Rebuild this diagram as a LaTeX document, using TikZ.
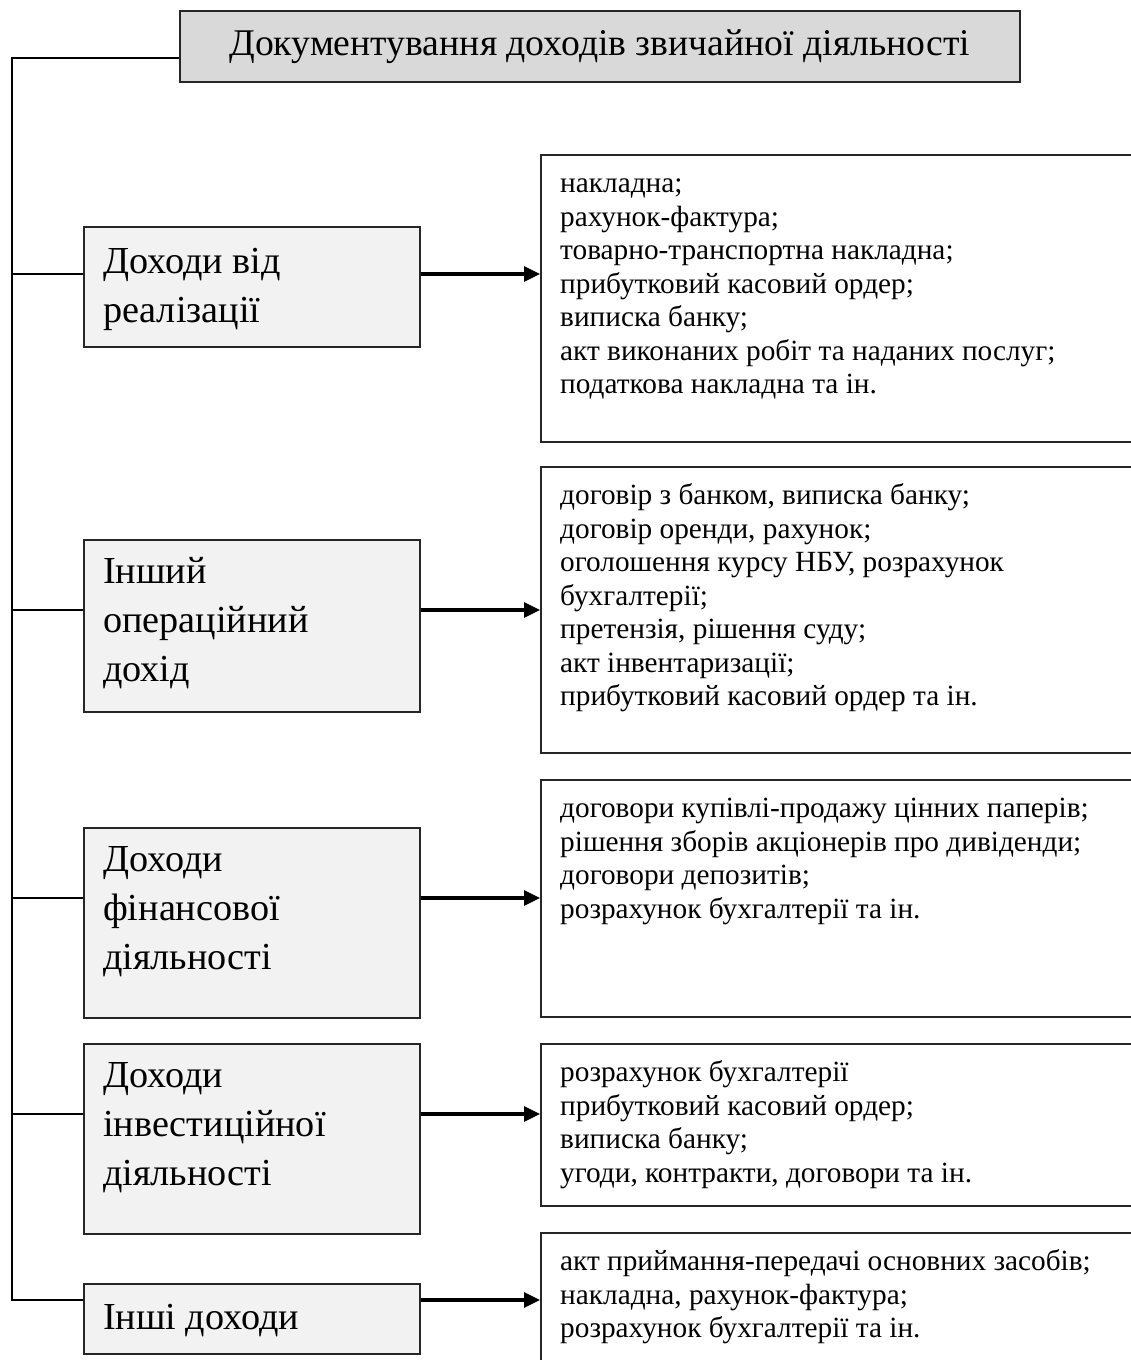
\documentclass[tikz,border=0pt]{standalone}
\usepackage{fontspec}
\setmainfont{Liberation Serif}
\usetikzlibrary{arrows.meta}
\begin{document}
\begin{tikzpicture}[x=1pt,y=-1pt,
  frame/.style={draw=black!85,line width=1.5pt,rectangle,inner sep=0pt,anchor=north west},
  titlebox/.style={frame,fill=black!15,font=\fontsize{37.7}{44}\selectfont},
  kindbox/.style={frame,fill=black!5,minimum width=336pt},
  docbox/.style={frame,fill=white,minimum width=600pt},
  kindtext/.style={anchor=north west,inner sep=0pt,align=left,font=\fontsize{38.2}{49}\selectfont},
  doctext/.style={anchor=north west,inner sep=0pt,align=left,font=\fontsize{29.3}{33.5}\selectfont},
  link/.style={line width=1.4pt},
  feed/.style={line width=3.2pt,-{Triangle[length=16pt,width=15pt]}}
]
\useasboundingbox (0,0) rectangle (1130,1360);

% heading
\node[titlebox,minimum width=840pt,minimum height=71pt] (title) at (179,10)
  {Документування доходів звичайної діяльності};

% kinds of income
\node[kindbox,minimum height=120pt] (k1) at (83,226) {};
\node[kindbox,minimum height=172pt] (k2) at (83,539) {};
\node[kindbox,minimum height=190pt] (k3) at (83,827) {};
\node[kindbox,minimum height=190pt] (k4) at (83,1043) {};
\node[kindbox,minimum height=70pt]  (k5) at (83,1283) {};

\node[kindtext] (k1t) at (103,239) {\strut Доходи від\\реалізації};
\node[kindtext] (k2t) at (103,549) {\strut Інший\\операційний\\дохід};
\node[kindtext] (k3t) at (103,837) {\strut Доходи\\фінансової\\діяльності};
\node[kindtext] (k4t) at (103,1053) {\strut Доходи\\інвестиційної\\діяльності};
\node[kindtext] (k5t) at (103,1295) {\strut Інші доходи};

% supporting documents
\node[docbox,minimum height=287pt] (d1) at (540,154) {};
\node[docbox,minimum height=286pt] (d2) at (540,466) {};
\node[docbox,minimum height=237pt] (d3) at (540,779) {};
\node[docbox,minimum height=162pt] (d4) at (540,1043) {};
\node[docbox,minimum height=160pt] (d5) at (540,1232) {};

\node[doctext] (d1t) at (560,169) {\strut накладна;\\рахунок-фактура;\\товарно-транспортна накладна;\\прибутковий касовий ордер;\\виписка банку;\\акт виконаних робіт та наданих послуг;\\податкова накладна та ін.};
\node[doctext] (d2t) at (560,481) {\strut договір з банком, виписка банку;\\договір оренди, рахунок;\\оголошення курсу НБУ, розрахунок\\бухгалтерії;\\претензія, рішення суду;\\акт інвентаризації;\\прибутковий касовий ордер та ін.};
\node[doctext] (d3t) at (560,794) {\strut договори купівлі-продажу цінних паперів;\\рішення зборів акціонерів про дивіденди;\\договори депозитів;\\розрахунок бухгалтерії та ін.};
\node[doctext] (d4t) at (560,1058) {\strut розрахунок бухгалтерії\\прибутковий касовий ордер;\\виписка банку;\\угоди, контракти, договори та ін.};
\node[doctext] (d5t) at (560,1247) {\strut акт приймання-передачі основних засобів;\\накладна, рахунок-фактура;\\розрахунок бухгалтерії та ін.};

% junctions on the left trunk
\coordinate (t0) at (12,58);
\coordinate (j1) at (12,274);
\coordinate (j2) at (12,610);
\coordinate (j3) at (12,898);
\coordinate (j4) at (12,1114);
\coordinate (j5) at (12,1300);

\draw[link] (t0 -| title.west) -- (t0) -- (j5) -- (j5 -| k5.west);
\foreach \i in {1,2,3,4}{
  \draw[link] (j\i) -- (j\i -| k\i.west);
}
\foreach \i in {1,...,5}{
  \draw[feed] (j\i -| k\i.east) -- (j\i -| d\i.west);
}
\end{tikzpicture}
\end{document}
